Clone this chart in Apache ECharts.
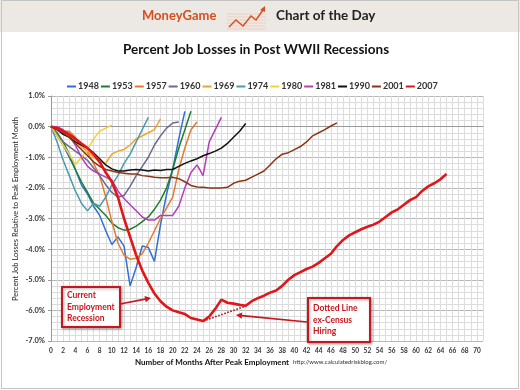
<!DOCTYPE html>
<html><head><meta charset="utf-8">
<script src="https://cdn.jsdelivr.net/npm/echarts@6/dist/echarts.min.js"></script>
<style>html,body{margin:0;padding:0;background:#fff}#c{width:520px;height:390px}</style>
</head><body><div id="c"></div>
<script>
// Months after peak are the array index (starting at month 0)
const names = ['1948','1953','1957','1960','1969','1974','1980','1981','1990','2001','2007'];
const s1948 = [0,-0.3,-0.6,-1.0,-1.4,-1.9,-2.2,-2.6,-2.9,-3.4,-3.85,-3.6,-3.9,-5.2,-4.6,-3.9,-3.95,-4.4,-3.2,-2.2,-1.4,-0.4,0.5];
const s1953 = [0,-0.2,-0.5,-0.9,-1.4,-1.8,-2.15,-2.5,-2.7,-2.9,-3.15,-3.3,-3.38,-3.35,-3.25,-3.1,-2.95,-2.7,-2.4,-2.0,-1.4,-0.7,-0.1,0.5];
const s1957 = [0,-0.1,-0.15,-0.15,-0.35,-0.6,-0.85,-1.2,-1.6,-2.3,-3.1,-3.8,-4.2,-4.33,-4.3,-4.15,-3.8,-3.4,-3.0,-2.65,-2.3,-1.4,-0.7,-0.1,0.15];
const s1960 = [0,-0.25,-0.5,-0.65,-0.8,-0.95,-1.1,-1.35,-1.6,-1.9,-2.15,-2.3,-2.25,-1.95,-1.6,-1.3,-1.0,-0.6,-0.3,-0.05,0.12,0.15];
const s1969 = [0,-0.1,-0.2,-0.3,-0.5,-0.65,-0.8,-1.0,-1.15,-1.2,-0.9,-0.8,-0.75,-0.6,-0.4,-0.3,-0.2,-0.1,0.25];
const s1974 = [0,-0.5,-1.1,-1.6,-2.1,-2.5,-2.75,-2.5,-2.6,-2.3,-1.9,-1.6,-1.2,-0.9,-0.5,-0.1,0.3];
const s1980 = [0,-0.3,-0.6,-0.9,-1.24,-1.0,-0.75,-0.4,-0.15,-0.05,0.05];
const s1981 = [0,0,-0.1,-0.3,-0.6,-1.0,-1.3,-1.45,-1.55,-1.65,-1.75,-2.1,-2.35,-2.55,-2.75,-2.95,-3.05,-3.05,-2.9,-2.9,-2.9,-2.6,-2.0,-1.5,-1.25,-1.6,-0.5,-0.1,0.3];
const s1990 = [0,-0.1,-0.25,-0.35,-0.5,-0.6,-0.7,-0.85,-1.05,-1.25,-1.38,-1.45,-1.45,-1.42,-1.4,-1.42,-1.45,-1.42,-1.43,-1.4,-1.4,-1.3,-1.2,-1.12,-1.05,-0.95,-0.88,-0.8,-0.7,-0.55,-0.35,-0.15,0.1];
const s2001 = [0,-0.1,-0.2,-0.35,-0.55,-0.75,-0.95,-1.15,-1.3,-1.4,-1.45,-1.5,-1.52,-1.55,-1.55,-1.6,-1.62,-1.65,-1.67,-1.67,-1.65,-1.7,-1.8,-1.92,-1.97,-1.98,-2.0,-2.0,-2.0,-1.98,-1.85,-1.78,-1.75,-1.65,-1.55,-1.45,-1.25,-1.05,-0.9,-0.85,-0.75,-0.65,-0.5,-0.3,-0.2,-0.1,0.02,0.12];
const s2007 = [0,-0.05,-0.15,-0.25,-0.4,-0.55,-0.7,-0.9,-1.15,-1.5,-1.8,-2.3,-3.0,-3.6,-4.2,-4.7,-5.1,-5.45,-5.7,-5.88,-6.0,-6.06,-6.12,-6.25,-6.3,-6.35,-6.2,-5.95,-5.65,-5.75,-5.78,-5.82,-5.85,-5.7,-5.6,-5.52,-5.42,-5.35,-5.2,-5.0,-4.85,-4.75,-4.65,-4.57,-4.45,-4.3,-4.15,-3.9,-3.7,-3.55,-3.45,-3.35,-3.27,-3.2,-3.1,-2.95,-2.8,-2.7,-2.55,-2.4,-2.3,-2.1,-1.95,-1.85,-1.72,-1.55];
// ex-Census dotted segment: endpoints (month, value)
const exCensusMonths = [25,32];
const exCensusValues = [-6.35,-5.86];
const yTicks = [1,0,-1,-2,-3,-4,-5,-6,-7];

const allData = [s1948,s1953,s1957,s1960,s1969,s1974,s1980,s1981,s1990,s2001,s2007];
const colors = ['#2F6FD6','#1E7F2E','#E57A2E','#6A6A90','#F0A32A','#4A9BAF','#F4D03A','#B43DB8','#111111','#8A3515','#E0161B'];
const FONT = 'Lato, "Open Sans", sans-serif';

const series = allData.map((arr,i)=>({
  name: names[i], type:'line', symbol:'none', smooth:false,
  data: arr.map((v,m)=>[m,v]),
  lineStyle:{width: names[i]==='2007'?2.6:1.5, color:colors[i]},
  itemStyle:{color:colors[i]},
  z: names[i]==='2007'?5:2
}));
series.push({
  name:'ex-Census', type:'line', symbol:'none', connectNulls:true,
  data: exCensusMonths.map((m,i)=>[m,exCensusValues[i]]),
  lineStyle:{width:1.6, type:'dotted', color:'#B01515'}, z:4
});

const chart = echarts.init(document.getElementById('c'), null, {renderer:'canvas'});
const red = '#C8161D';
function arrow(x1,y1,x2,y2){
  const ang = Math.atan2(y2-y1,x2-x1), L=6, W=3.2;
  const bx = x2 - L*Math.cos(ang), by = y2 - L*Math.sin(ang);
  const px = -Math.sin(ang)*W, py = Math.cos(ang)*W;
  return [
    {type:'line', shape:{x1:x1,y1:y1,x2:bx,y2:by}, style:{stroke:red,lineWidth:1.6}, z:20},
    {type:'polygon', shape:{points:[[x2,y2],[bx+px,by+py],[bx-px,by-py]]}, style:{fill:red}, z:20}
  ];
}
chart.setOption({
  animation:false,
  backgroundColor:'#fff',
  grid:{left:51,right:37,top:96,bottom:49},
  legend:{
    data:names, left:62, top:77, itemWidth:9, itemHeight:2, itemGap:2, icon:'rect',
    textStyle:{fontFamily:FONT, fontSize:9, fontWeight:'bold', color:'#333', padding:[0,0,0,-3]}
  },
  xAxis:{
    type:'value', min:0, max:71, interval:1,
    axisLine:{show:true, lineStyle:{color:'#999'}},
    axisTick:{show:false},
    axisLabel:{fontFamily:FONT, fontSize:6.5, fontWeight:'bold', color:'#333', margin:6,
      formatter:v=> (v%2===0 ? String(v) : '')},
    splitLine:{show:true, lineStyle:{color:'#dcdcdc', width:1}}
  },
  yAxis:{
    type:'value', min:-7, max:1, interval:1,
    axisLine:{show:true, lineStyle:{color:'#999'}},
    axisTick:{show:true, length:3, lineStyle:{color:'#999'}},
    axisLabel:{fontFamily:FONT, fontSize:7.5, fontWeight:'bold', color:'#333', margin:6,
      formatter:v=> v.toFixed(1)+'%'},
    splitLine:{show:true, lineStyle:{color:'#b8b8b8', width:1}},
    minorTick:{show:false, splitNumber:5},
    minorSplitLine:{show:true, lineStyle:{color:'#dcdcdc', width:1}}
  },
  series: series,
  graphic:[
    {type:'rect', shape:{x:0,y:0,width:520,height:32}, style:{fill:'#ECE8E4'}, z:1},
    {type:'rect', shape:{x:1.5,y:0.5,width:517,height:388}, style:{fill:null, stroke:'#c4c4c4', lineWidth:1}, z:1},
    {type:'text', x:142, y:16, style:{text:'MoneyGame', fill:'#D2501E', font:'bold 13px '+FONT, verticalAlign:'middle'}, z:3},
    // header icon ruled lines
    ...[14,17,20,23,26,29].map(y=>({type:'line', shape:{x1:227,y1:y,x2:266,y2:y}, style:{stroke:'#F2C9B8',lineWidth:0.8}, z:2})),
    {type:'polyline', shape:{points:[[229,27],[236,20],[243,26],[251,16],[256,20],[263,10]]}, style:{stroke:'#D2501E',lineWidth:1.4,fill:null}, z:3},
    {type:'polygon', shape:{points:[[265,6],[260,10],[265,12]]}, style:{fill:'#D2501E'}, z:3},
    {type:'text', x:276, y:16, style:{text:'Chart of the Day', fill:'#222', font:'bold 13.5px '+FONT, verticalAlign:'middle'}, z:3},
    {type:'text', x:256, y:50, style:{text:'Percent Job Losses in Post WWII Recessions', fill:'#111', font:'bold 13.5px '+FONT, align:'center', verticalAlign:'middle'}, z:3},
    {type:'text', x:16, y:209, rotation:Math.PI/2, style:{text:'Percent Job Losses Relative to Peak Employment Month', fill:'#222', font:'7.5px '+FONT, align:'center', verticalAlign:'middle'}, z:3},
    {type:'text', x:212, y:362, style:{text:'Number of Months After Peak Employment', fill:'#111', font:'bold 8px '+FONT, align:'center', verticalAlign:'middle'}, z:3},
    {type:'text', x:293, y:362, style:{text:'http://www.calculatedriskblog.com/', fill:'#333', font:'6px '+FONT, verticalAlign:'middle'}, z:3},
    // annotation boxes
    {type:'rect', shape:{x:62,y:287,width:58,height:40}, style:{fill:'#fff', stroke:red, lineWidth:2, shadowBlur:3, shadowColor:'rgba(0,0,0,0.35)', shadowOffsetX:1, shadowOffsetY:1}, z:15},
    {type:'text', x:67, y:295, style:{text:'Current', fill:red, font:'bold 8.5px '+FONT, verticalAlign:'middle'}, z:16},
    {type:'text', x:67, y:307, style:{text:'Employment', fill:red, font:'bold 8.5px '+FONT, verticalAlign:'middle'}, z:16},
    {type:'text', x:67, y:318, style:{text:'Recession', fill:red, font:'bold 8.5px '+FONT, verticalAlign:'middle'}, z:16},
    {type:'rect', shape:{x:308,y:298,width:62,height:44}, style:{fill:'#fff', stroke:red, lineWidth:2, shadowBlur:3, shadowColor:'rgba(0,0,0,0.35)', shadowOffsetX:1, shadowOffsetY:1}, z:15},
    {type:'text', x:313, y:308, style:{text:'Dotted Line', fill:red, font:'bold 8.5px '+FONT, verticalAlign:'middle'}, z:16},
    {type:'text', x:313, y:320, style:{text:'ex-Census', fill:red, font:'bold 8.5px '+FONT, verticalAlign:'middle'}, z:16},
    {type:'text', x:313, y:331, style:{text:'Hiring', fill:red, font:'bold 8.5px '+FONT, verticalAlign:'middle'}, z:16},
    ...arrow(120,304,151,298),
    ...arrow(307,322,236,315)
  ]
});
</script></body></html>
